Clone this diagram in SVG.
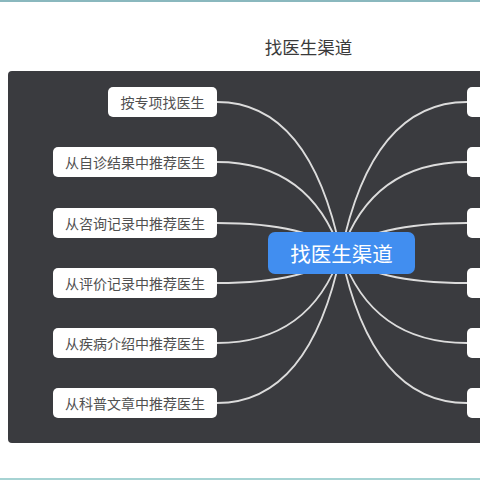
<svg xmlns="http://www.w3.org/2000/svg" width="480" height="480" viewBox="0 0 480 480">
<style>
.node rect{fill:#ffffff}
.node text{font-family:"Noto Sans CJK SC","Noto Sans",sans-serif;font-size:14px;fill:#505050;text-anchor:middle;dominant-baseline:central}
#connectors path{fill:none;stroke:#dcdcdc;stroke-width:1.8}
</style>
<rect x="0" y="0" width="480" height="480" fill="#ffffff"/>
<rect x="0" y="0" width="480" height="2" fill="#8ab8be"/>
<rect x="0" y="478" width="480" height="2" fill="#a6d3d3"/>
<text x="308.5" y="46" font-family="'Noto Sans CJK SC','Noto Sans',sans-serif" font-size="17.5" fill="#3a3a3a" text-anchor="middle" dominant-baseline="central">找医生渠道</text>
<rect x="8" y="71" width="490" height="372" rx="4" fill="#3a3b3f"/>
<g id="connectors">
<path d="M341,253 Q310,102 217,102"/>
<path d="M341,253 Q310,162 217,162"/>
<path d="M341,253 Q310,223 217,223"/>
<path d="M341,253 Q310,283 217,283"/>
<path d="M341,253 Q310,343 217,343"/>
<path d="M341,253 Q310,403 217,403"/>
<path d="M341,253 Q372,102 467,102"/>
<path d="M341,253 Q372,162 467,162"/>
<path d="M341,253 Q372,223 467,223"/>
<path d="M341,253 Q372,283 467,283"/>
<path d="M341,253 Q372,343 467,343"/>
<path d="M341,253 Q372,403 467,403"/>
</g>
<g id="center" class="center">
<rect x="268" y="232" width="147" height="42" rx="7" fill="#418ef0"/>
<text x="341.5" y="253" font-family="'Noto Sans CJK SC','Noto Sans',sans-serif" font-size="20.5" fill="#ffffff" text-anchor="middle" dominant-baseline="central">找医生渠道</text>
</g>
<g id="n1" class="node"><rect x="108" y="87" width="109" height="30" rx="5"/><text x="162.5" y="102">按专项找医生</text></g>
<g id="n2" class="node"><rect x="53" y="147" width="164" height="30" rx="5"/><text x="135" y="162">从自诊结果中推荐医生</text></g>
<g id="n3" class="node"><rect x="53" y="208" width="164" height="30" rx="5"/><text x="135" y="223">从咨询记录中推荐医生</text></g>
<g id="n4" class="node"><rect x="53" y="268" width="164" height="30" rx="5"/><text x="135" y="283">从评价记录中推荐医生</text></g>
<g id="n5" class="node"><rect x="53" y="328" width="164" height="30" rx="5"/><text x="135" y="343">从疾病介绍中推荐医生</text></g>
<g id="n6" class="node"><rect x="53" y="388" width="164" height="30" rx="5"/><text x="135" y="403">从科普文章中推荐医生</text></g>
<g id="r1" class="node"><rect x="467" y="87" width="40" height="30" rx="5"/></g>
<g id="r2" class="node"><rect x="467" y="147" width="40" height="30" rx="5"/></g>
<g id="r3" class="node"><rect x="467" y="208" width="40" height="30" rx="5"/></g>
<g id="r4" class="node"><rect x="467" y="268" width="40" height="30" rx="5"/></g>
<g id="r5" class="node"><rect x="467" y="328" width="40" height="30" rx="5"/></g>
<g id="r6" class="node"><rect x="467" y="388" width="40" height="30" rx="5"/></g>
</svg>
